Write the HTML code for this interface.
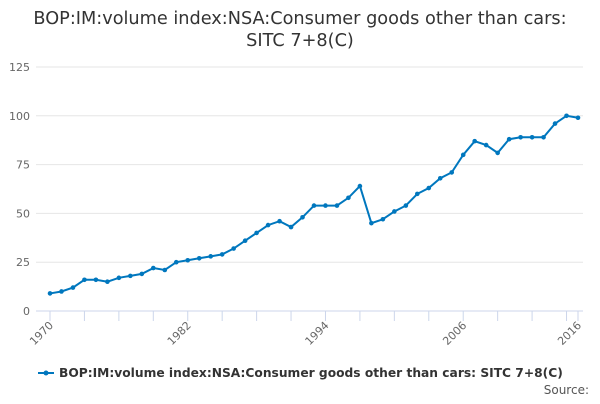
<!DOCTYPE html>
<html><head><meta charset="utf-8"><style>
body{margin:0;width:600px;height:400px;background:#fff;font-family:"DejaVu Sans",sans-serif;overflow:hidden}
svg text{font-family:"DejaVu Sans",sans-serif}
</style></head><body>
<svg width="600" height="400" xmlns="http://www.w3.org/2000/svg">
<text x="300" y="24" text-anchor="middle" font-size="17.7" fill="#333">BOP:IM:volume index:NSA:Consumer goods other than cars:</text>
<text x="300" y="46" text-anchor="middle" font-size="17.7" fill="#333">SITC 7+8(C)</text>
<g id="grid"></g><g id="yl"></g><g id="xt"></g><g id="series"></g>
<g>
<line x1="38" y1="373" x2="54" y2="373" stroke="#0077be" stroke-width="2"/><circle cx="46" cy="373" r="2.5" fill="#0077be"/>
<text x="59" y="377" font-size="12.25" font-weight="bold" fill="#333">BOP:IM:volume index:NSA:Consumer goods other than cars: SITC 7+8(C)</text>
</g>
<text x="589" y="394" text-anchor="end" font-size="12" fill="#555">Source:</text>
</svg>
<script>
const years=[1970,1971,1972,1973,1974,1975,1976,1977,1978,1979,1980,1981,1982,1983,1984,1985,1986,1987,1988,1989,1990,1991,1992,1993,1994,1995,1996,1997,1998,1999,2000,2001,2002,2003,2004,2005,2006,2007,2008,2009,2010,2011,2012,2013,2014,2015,2016];
const values=[9,10,12,16,16,15,17,18,19,22,21,25,26,27,28,29,32,36,40,44,46,43,48,54,54,54,58,64,45,47,51,54,60,63,68,71,80,87,85,81,88,89,89,89,96,100,99];
const yTicks=[0,25,50,75,100,125];
const xLabels=[1970,1982,1994,2006,2016];
const NS="http://www.w3.org/2000/svg";
const X=y=>50+(y-1970)*(528/46);
const Y=v=>311-v*(244/125);
function mk(t,a,p){const e=document.createElementNS(NS,t);for(const k in a)e.setAttribute(k,a[k]);document.getElementById(p).appendChild(e);return e;}
yTicks.forEach(v=>{
 const l=mk('line',{x1:36,x2:583,y1:Y(v),y2:Y(v),stroke:v===0?'#ccd6eb':'#e6e6e6','stroke-width':1},'grid');
 
 
 const t=mk('text',{x:30,y:Y(v)+4,'text-anchor':'end','font-size':11,fill:'#666'},'yl');
 t.textContent=v;
 
 
});
for(let y=1970;y<=2016;y+=3){
 const t=mk('line',{x1:X(y),x2:X(y),y1:311,y2:321,stroke:'#ccd6eb'},'xt');
 
 
}
mk('line',{x1:X(2016),x2:X(2016),y1:311,y2:321,stroke:'#ccd6eb'},'xt');
xLabels.forEach(y=>{
 const t=mk('text',{x:X(y)+4,y:326,'text-anchor':'end','font-size':11,fill:'#666',transform:`rotate(-45 ${X(y)+4} 326)`},'xt');
 t.textContent=y;
 
 
});
const p=mk('polyline',{points:years.map((y,i)=>X(y)+','+Y(values[i])).join(' '),fill:'none',stroke:'#0077be','stroke-width':2},'series');


years.forEach((y,i)=>{
 const c=mk('circle',{cx:X(y),cy:Y(values[i]),r:2.3,fill:'#0077be'},'series');
 
 
});
</script>
</body></html>
